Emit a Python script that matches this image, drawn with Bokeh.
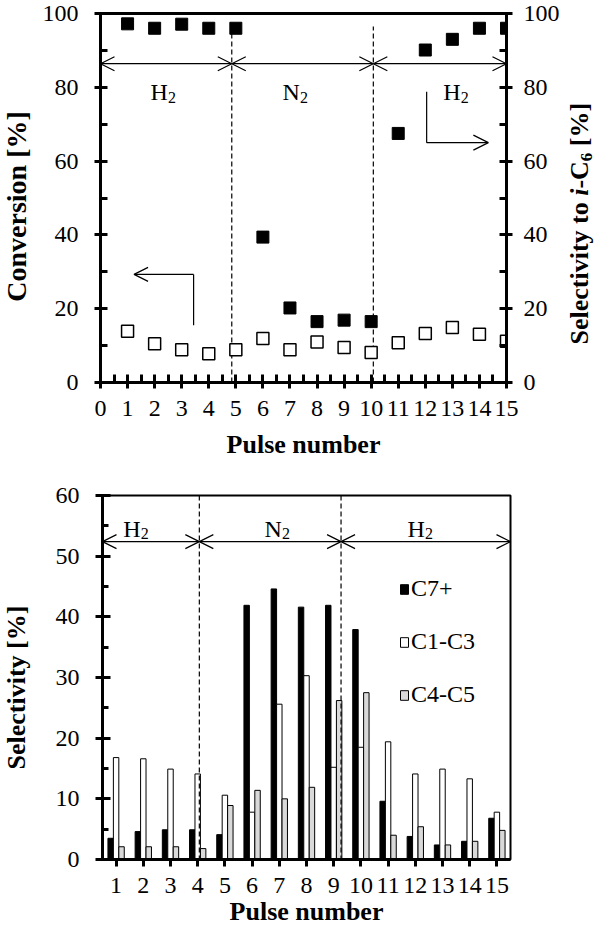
import math
from bokeh.plotting import figure
from bokeh.models import (Range1d, LinearAxis, Arrow, OpenHead, Span, Label,
                          Legend, LegendItem, FixedTicker)
from bokeh.layouts import column, row
from bokeh.embed import file_html
from bokeh.resources import INLINE

# ---------------- data ----------------
pulses = list(range(1, 16))
conversion = [13.9, 10.5, 8.9, 7.8, 8.9, 11.9, 8.9, 11.0, 9.5, 8.1, 10.8, 13.3, 14.9, 13.1, 11.2]
selectivity_iC6 = [97.2, 96.0, 97.1, 96.0, 96.0, 39.4, 20.2, 16.5, 16.9, 16.5, 67.5, 90.1, 93.0, 96.0, 96.0]

sel_C7plus = [3.5, 4.6, 4.9, 4.9, 4.1, 41.9, 44.6, 41.6, 41.9, 37.9, 9.6, 3.8, 2.4, 3.0, 6.8]
sel_C1C3 = [16.8, 16.6, 14.9, 14.1, 10.6, 7.8, 25.6, 30.3, 15.2, 18.5, 19.4, 14.1, 14.9, 13.3, 7.8]
sel_C4C5 = [2.1, 2.1, 2.1, 1.8, 8.9, 11.4, 10.0, 11.9, 26.2, 27.5, 4.0, 5.4, 2.4, 3.0, 4.8]

series_names = ["C7+", "C1-C3", "C4-C5"]
phase_gas = ["H", "N", "H"]           # gas symbol, subscript "2" added
top_switch = [4.85, 10.08]            # pulse positions of gas switch (top panel)
bot_switch = [4.06, 9.27]             # pulse positions of gas switch (bottom panel)
top_ticks = list(range(0, 16))
top_yticks = [0, 20, 40, 60, 80, 100]
bot_yticks = [0, 10, 20, 30, 40, 50, 60]

FONT = "Liberation Serif"
TICK = "24px"
TITLE = "26px"


def style_axis(ax):
    ax.axis_line_width = 3
    ax.axis_line_color = "black"
    ax.major_tick_line_width = 3
    ax.minor_tick_line_width = 3
    ax.major_tick_line_color = "black"
    ax.minor_tick_line_color = "black"
    ax.major_label_text_font = FONT
    ax.major_label_text_font_size = TICK
    ax.major_label_text_color = "black"
    ax.axis_label_text_font = FONT
    ax.axis_label_text_font_size = TITLE
    ax.axis_label_text_font_style = "bold"
    ax.axis_label_text_color = "black"


def text_column(width, height, ymax):
    # narrow title strip; its frame is aligned with the neighbouring plot frame,
    # so it shares that plot's vertical data range
    f = figure(width=width, height=height, output_backend="svg", toolbar_location=None,
               x_range=Range1d(0, width), y_range=Range1d(0, ymax),
               x_axis_type=None, y_axis_type=None, min_border=0)
    f.outline_line_color = None
    f.grid.visible = False
    return f


TOP_H = 470
BOT_H = 465

# ---------------- top panel ----------------
p1 = figure(width=528, height=TOP_H, output_backend="svg", toolbar_location=None,
            x_range=Range1d(0, 15), y_range=Range1d(0, 100),
            min_border_left=66, min_border_right=53, min_border_top=13, min_border_bottom=88)
p1.extra_y_ranges = {"sel": Range1d(0, 100)}
p1.grid.visible = False
p1.outline_line_color = "black"
p1.outline_line_width = 3

xa = p1.xaxis[0]
style_axis(xa)
xa.ticker = FixedTicker(ticks=top_ticks, minor_ticks=[t + 0.5 for t in top_ticks[:-1]])
xa.major_tick_in = 8
xa.major_tick_out = 6
xa.minor_tick_in = 8
xa.minor_tick_out = 0
xa.major_label_standoff = 12
xa.axis_label = "Pulse number"
xa.axis_label_standoff = 11

ya = p1.yaxis[0]
style_axis(ya)
ya.ticker = FixedTicker(ticks=top_yticks, minor_ticks=[10, 30, 50, 70, 90])
ya.major_tick_in = 7
ya.major_tick_out = 6
ya.minor_tick_in = 7
ya.minor_tick_out = 0
ya.major_label_standoff = 16

ra = LinearAxis(y_range_name="sel")
style_axis(ra)
ra.ticker = FixedTicker(ticks=top_yticks, minor_ticks=[10, 30, 50, 70, 90])
ra.major_tick_in = 7
ra.major_tick_out = 6
ra.minor_tick_in = 7
ra.minor_tick_out = 0
ra.major_label_standoff = 11
p1.add_layout(ra, "right")

# gas-switch dashed lines
p1.segment(x0=top_switch, y0=[0, 0], x1=top_switch, y1=[96.5, 96.5],
           line_color="black", line_width=1.2, line_dash="5 3")

# phase arrows
bounds = [0] + top_switch + [15]
for a, b in zip(bounds[:-1], bounds[1:]):
    p1.add_layout(Arrow(start=OpenHead(size=14, line_width=1.2), end=OpenHead(size=14, line_width=1.2),
                        x_start=a, y_start=86.4, x_end=b, y_end=86.4, line_width=1.2))

# phase labels
for gx, g in zip([1.85, 6.72, 12.66], phase_gas):
    p1.add_layout(Label(x=gx, y=78.6, text=g, text_font=FONT, text_font_size="24px",
                        text_color="black", text_align="left", text_baseline="alphabetic"))
    p1.add_layout(Label(x=gx, y=78.6, x_offset=17.5, y_offset=-5, text="2", text_font=FONT,
                        text_font_size="16px", text_color="black",
                        text_align="left", text_baseline="alphabetic"))

# pointer arrows
p1.segment(x0=[3.44], y0=[15.5], x1=[3.44], y1=[29.3], line_color="black", line_width=1.2)
p1.add_layout(Arrow(end=OpenHead(size=14, line_width=1.2), x_start=3.44, y_start=29.3,
                    x_end=1.24, y_end=29.3, line_width=1.2))
p1.segment(x0=[12.05], y0=[78.8], x1=[12.05], y1=[65.0], line_color="black", line_width=1.2)
p1.add_layout(Arrow(end=OpenHead(size=15, line_width=1.2), x_start=12.05, y_start=65.0,
                    x_end=14.33, y_end=65.0, line_width=1.2))

# data markers
p1.scatter(pulses, conversion, marker="square", size=12, fill_color="white",
           line_color="black", line_width=1.5)
p1.scatter(pulses, selectivity_iC6, marker="square", size=12, fill_color="black",
           line_color="black", y_range_name="sel")

# left title strip (top)
l1 = text_column(34, TOP_H, 100)
l1.add_layout(Label(x=16, y=47.7, text="Conversion [%]", angle=math.pi / 2,
                    text_font=FONT, text_font_size="28px", text_font_style="bold",
                    text_color="black", text_align="center", text_baseline="middle"))

# right title strip (top): "Selectivity to i-C6 [%]" built from styled pieces
r1 = text_column(34, TOP_H, 100)
pieces = [("Selectivity to", "bold", TITLE, 71.1, 0),
          ("i", "bold italic", TITLE, 152.3, 0),
          ("-C", "bold", TITLE, 169.6, 0),
          ("6", "bold", "17px", 187.6, 7),
          ("[%]", "bold", TITLE, 220.0, 0)]
for txt, st, fs, yo, xo in pieces:
    r1.add_layout(Label(x=17, y=10.3, x_offset=xo, y_offset=yo, text=txt, angle=math.pi / 2,
                        text_font=FONT, text_font_size=fs, text_font_style=st,
                        text_color="black", text_align="center", text_baseline="middle"))

# ---------------- bottom panel ----------------
p2 = figure(width=562, height=BOT_H, output_backend="svg", toolbar_location=None,
            x_range=Range1d(0.5, 15.5), y_range=Range1d(0, 60),
            min_border_left=68, min_border_right=86, min_border_top=25, min_border_bottom=76)
p2.grid.visible = False
p2.outline_line_color = "black"
p2.outline_line_width = 2

bxa = p2.xaxis[0]
style_axis(bxa)
bxa.ticker = FixedTicker(ticks=pulses)
bxa.major_tick_in = 0
bxa.major_tick_out = 7
bxa.minor_tick_in = 0
bxa.minor_tick_out = 0
bxa.major_label_standoff = 11
bxa.axis_label = "Pulse number"
bxa.axis_label_standoff = 1

bya = p2.yaxis[0]
style_axis(bya)
bya.ticker = FixedTicker(ticks=bot_yticks, minor_ticks=[5, 15, 25, 35, 45, 55])
bya.major_tick_in = 8
bya.major_tick_out = 7
bya.minor_tick_in = 6
bya.minor_tick_out = 0
bya.major_label_standoff = 16

for s in bot_switch:
    p2.add_layout(Span(location=s, dimension="height", line_color="black",
                       line_width=1.2, line_dash="5 3"))

bounds2 = [0.5] + bot_switch + [15.5]
for a, b in zip(bounds2[:-1], bounds2[1:]):
    p2.add_layout(Arrow(start=OpenHead(size=14, line_width=1.2), end=OpenHead(size=14, line_width=1.2),
                        x_start=a, y_start=52.4, x_end=b, y_end=52.4, line_width=1.2))
for gx, g in zip([1.265, 6.46, 11.71], phase_gas):
    p2.add_layout(Label(x=gx, y=54.5, text=g, text_font=FONT, text_font_size="24px",
                        text_color="black", text_align="left", text_baseline="alphabetic"))
    p2.add_layout(Label(x=gx, y=54.5, x_offset=17.5, y_offset=-5, text="2", text_font=FONT,
                        text_font_size="16px", text_color="black",
                        text_align="left", text_baseline="alphabetic"))

w = 0.2
rb1 = p2.vbar(x=[x - w for x in pulses], top=sel_C7plus, width=w, bottom=0,
              fill_color="black", line_color="black", line_width=1)
rb2 = p2.vbar(x=pulses, top=sel_C1C3, width=w, bottom=0,
              fill_color="white", line_color="black", line_width=1)
rb3 = p2.vbar(x=[x + w for x in pulses], top=sel_C4C5, width=w, bottom=0,
              fill_color="#d9d9d9", line_color="black", line_width=1)

legend = Legend(items=[LegendItem(label=n, renderers=[r]) for n, r in zip(series_names, [rb1, rb2, rb3])],
                location=(297, 151), glyph_width=10, glyph_height=12, label_standoff=2,
                spacing=26, padding=0, margin=0, border_line_alpha=0, background_fill_alpha=0,
                label_text_font=FONT, label_text_font_size="24px", label_text_color="black")
p2.add_layout(legend)

l2 = text_column(34, BOT_H, 60)
l2.add_layout(Label(x=16, y=28.35, text="Selectivity [%]", angle=math.pi / 2,
                    text_font=FONT, text_font_size=TITLE, text_font_style="bold",
                    text_color="black", text_align="center", text_baseline="middle"))

layout = column(row(l1, p1, r1), row(l2, p2))
open("out.html", "w").write(file_html(layout, INLINE))
